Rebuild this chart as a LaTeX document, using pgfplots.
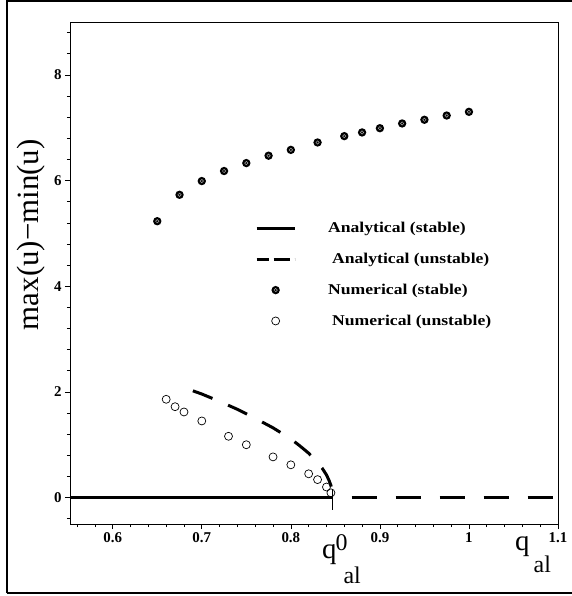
\documentclass[border=0pt]{standalone}
\usepackage{fontspec}
\setmainfont{Liberation Serif}
\usepackage{graphicx}
\usepackage{pgfplots}
\pgfplotsset{compat=1.18}

% filled dot with a faint ring in the middle
\pgfdeclareplotmark{dotring}{%
  \pgfpathcircle{\pgfpointorigin}{\pgfplotmarksize}%
  \pgfsetfillcolor{black}\pgfusepathqfill
  \pgfpathcircle{\pgfpointorigin}{0.4\pgfplotmarksize}%
  \pgfsetstrokecolor{gray!70}\pgfsetlinewidth{0.5bp}\pgfusepathqstroke}

\pgfplotsset{
  lineleg/.style={legend image code/.code={\draw[##1] (0bp,0bp) -- (38bp,0bp);}},
  dashleg/.style={legend image code/.code={\draw[##1, dash pattern=on 16bp off 5bp] (0bp,0bp) -- (38bp,0bp);}},
  markleg/.style={legend image code/.code={\path[draw=none, fill=none] (0bp,0bp) -- (38bp,0bp); \path[##1, only marks] plot coordinates {(19bp,0bp)};}},
}
\newcommand{\leg}[1]{\scalebox{1.18}[1]{#1}}

\begin{document}
\begin{tikzpicture}
\begin{axis}[
  at={(0,0)}, anchor=south west,
  scale only axis, width=488bp, height=502bp,
  xmin=0.552, xmax=1.1, ymin=-0.5, ymax=9,
  xtick={0.6,0.7,0.8,0.9,1,1.1},
  ytick={0,2,4,6,8},
  minor xtick={0.56,0.58,...,1.1},
  minor ytick={-0.4,0,...,8.8},
  xtick pos=left, ytick pos=left,
  tick align=outside,
  major tick length=5bp, minor tick length=3bp,
  every tick/.style={black, line width=0.6bp},
  axis line style={line width=0.8bp},
  xticklabel={\bfseries\pgfmathprintnumber[assume math mode=true]{\tick}},
  yticklabel={\bfseries\pgfmathprintnumber[assume math mode=true]{\tick}},
  xticklabel style={font=\fontsize{15}{15}\selectfont\bfseries},
  yticklabel style={font=\fontsize{15}{15}\selectfont\bfseries},
  ylabel={max(u)−min(u)},
  ylabel style={font=\fontsize{31}{31}\selectfont, at={(rel axis cs:-0.080,0.576)}, anchor=center},
  legend style={draw=none, fill=none, inner sep=0pt,
    at={(rel axis cs:0.379,0.605)}, anchor=north west,
    font=\fontsize{15}{15}\selectfont\bfseries,
    row sep=15bp, column sep=30bp},
  legend cell align=left,
]
\addplot[black, line width=3bp, lineleg]
  coordinates {(0.552,0) (0.847,0)};
\addlegendentry{\leg{Analytical (stable)}}

\addplot[black, line width=3bp, dash pattern=on 25bp off 19bp, dash phase=25bp, dashleg]
  coordinates {(0.847,0) (1.1,0)};
\addlegendentry{\kern4bp\leg{Analytical (unstable)}}

\addplot[only marks, mark=dotring, mark size=4.2bp, markleg]
  coordinates {
  (0.65,5.23) (0.675,5.73) (0.70,5.99) (0.725,6.18) (0.75,6.33)
  (0.775,6.47) (0.80,6.58) (0.83,6.72) (0.86,6.84) (0.88,6.91)
  (0.90,6.99) (0.925,7.08) (0.95,7.15) (0.975,7.23) (1.0,7.30)
  };
\addlegendentry{\leg{Numerical (stable)}\rule[-9bp]{0pt}{1bp}}

\addplot[only marks, mark=o, mark size=4bp, mark options={black, fill=white, line width=0.7bp}, markleg]
  coordinates {
  (0.66,1.86) (0.67,1.72) (0.68,1.62) (0.70,1.45) (0.73,1.16) (0.75,1.00)
  (0.78,0.77) (0.80,0.62) (0.82,0.45) (0.83,0.34) (0.84,0.20) (0.845,0.09)
  };
\addlegendentry{\kern4bp\leg{Numerical (unstable)}}

% analytical unstable branch
\addplot[black, line width=3bp, dash pattern=on 21bp off 17bp, forget plot]
  coordinates {
  (0.69,2.02) (0.70,1.96) (0.72,1.82) (0.74,1.67) (0.76,1.50) (0.78,1.32)
  (0.80,1.11) (0.81,0.98) (0.82,0.84) (0.83,0.66) (0.835,0.56) (0.84,0.43)
  (0.843,0.32) (0.845,0.23) (0.846,0.16) (0.847,0)
  };

% marker at q_al^0
\addplot[black, line width=0.8bp, forget plot] coordinates {(0.847,0.15) (0.847,-0.24)};
\end{axis}

\node[anchor=base west, inner sep=0pt] at (252bp,-34bp)
  {\fontsize{29}{29}\selectfont q\kern-1bp\raisebox{8bp}{\fontsize{24}{24}\selectfont 0}\kern-4bp\raisebox{-25bp}{\fontsize{24}{24}\selectfont al}};
\node[anchor=base west, inner sep=0pt] at (445bp,-26bp)
  {\fontsize{29}{29}\selectfont q\kern4bp\raisebox{-22bp}{\fontsize{24}{24}\selectfont al}};

\draw[line width=2bp] (-63bp,-69bp) -- (-63bp,523bp) -- (503bp,523bp);
\draw[line width=2.5bp] (-63bp,-69bp) -- (503bp,-69bp);

\pgfresetboundingbox
\path[use as bounding box] (-70bp,-72bp) rectangle (502bp,524bp);
\end{tikzpicture}
\end{document}
